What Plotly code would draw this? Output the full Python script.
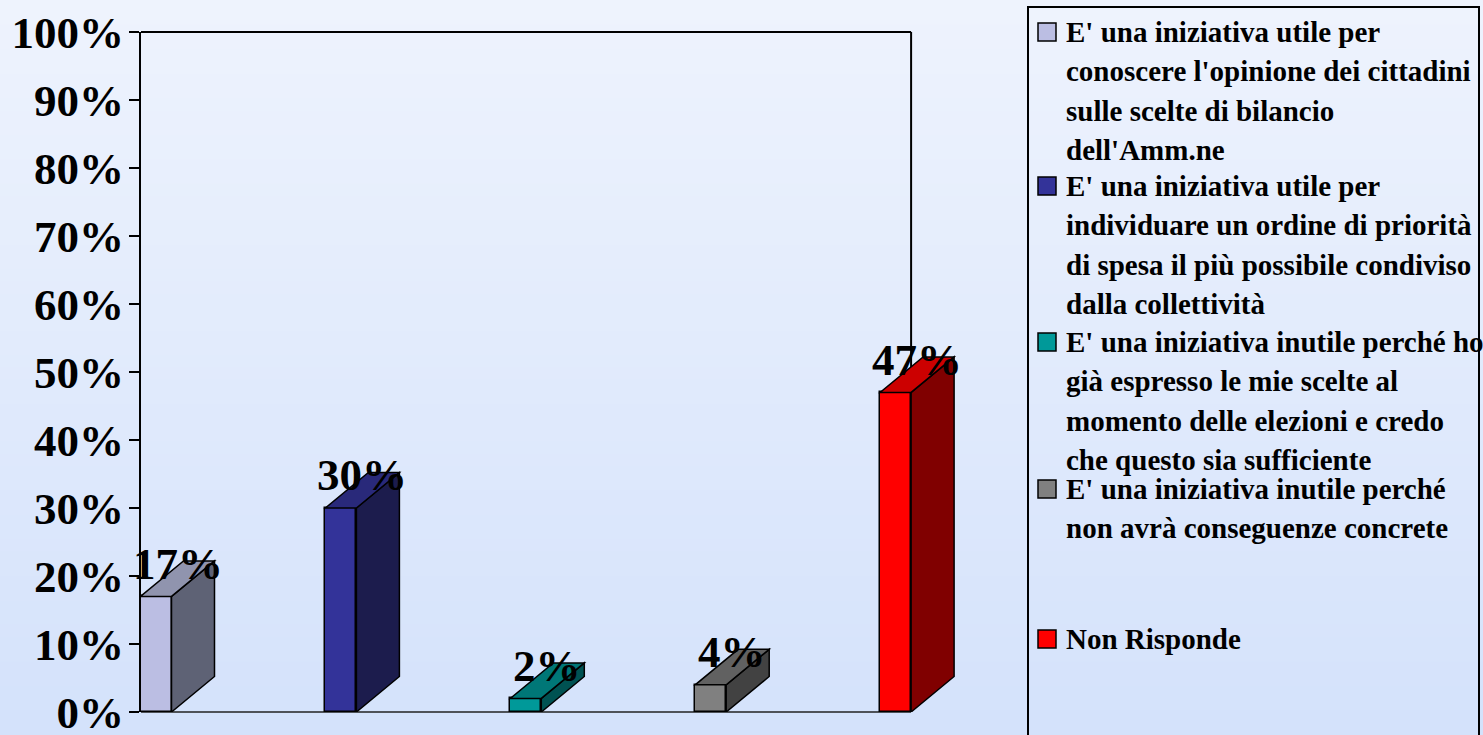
import plotly.graph_objects as go

# ---------------- data ----------------
categories = [
    "E' una iniziativa utile per conoscere l'opinione dei cittadini sulle scelte di bilancio dell'Amm.ne",
    "E' una iniziativa utile per individuare un ordine di priorità di spesa il più possibile condiviso dalla collettività",
    "E' una iniziativa inutile perché ho già espresso le mie scelte al momento delle elezioni e credo che questo sia sufficiente",
    "E' una iniziativa inutile perché non avrà conseguenze concrete",
    "Non Risponde",
]
legend_lines = [
    ["E' una iniziativa utile per", "conoscere l'opinione dei cittadini", "sulle scelte di bilancio", "dell'Amm.ne"],
    ["E' una iniziativa utile per", "individuare un ordine di priorità", "di spesa il più possibile condiviso", "dalla collettività"],
    ["E' una iniziativa inutile perché ho", "già espresso le mie scelte al", "momento delle elezioni e credo", "che questo sia sufficiente"],
    ["E' una iniziativa inutile perché", "non avrà conseguenze concrete"],
    ["Non Risponde"],
]
values = [17, 30, 2, 4, 47]
tick_values = [0, 10, 20, 30, 40, 50, 60, 70, 80, 90, 100]
tick_labels = ["0%", "10%", "20%", "30%", "40%", "50%", "60%", "70%", "80%", "90%", "100%"]

# ---------------- style ----------------
front_colors = ["#BBBEE3", "#333399", "#009999", "#808080", "#FF0000"]
top_colors = ["#9094AE", "#29297A", "#007777", "#616161", "#CC0000"]
side_colors = ["#5E6275", "#1C1C4D", "#005252", "#424242", "#800000"]

W, H = 1483, 735
FONT = "Liberation Serif, Times New Roman, serif"

# plot area in pixels
PX_L, PX_R, PX_T, PX_B = 141, 1000, 32, 712
UNIT_X = 184.9            # px per category
FIRST_CENTER = 156        # px of first category centre
BAR_W = 31 / UNIT_X
DEPTH_X = 43 / UNIT_X
DEPTH_Y = 35.5 / ((PX_B - PX_T) / 100.0)
x_lo = -(FIRST_CENTER - PX_L) / UNIT_X
x_hi = x_lo + (PX_R - PX_L) / UNIT_X
wall_x = (len(values) - 1) + BAR_W / 2


def px_x(p):
    return p / W


def px_y(p):
    return 1 - p / H


xs = list(range(len(values)))

fig = go.Figure()
fig.add_trace(go.Bar(
    x=xs, y=values, width=BAR_W,
    marker=dict(color=front_colors, line=dict(color="black", width=1.5)),
    showlegend=False, hoverinfo="skip",
))

shapes = []
# background gradient
top_rgb = (238, 243, 253)
bot_rgb = (212, 226, 251)
N = 60
for k in range(N):
    t = k / (N - 1)
    c = tuple(round(top_rgb[j] + (bot_rgb[j] - top_rgb[j]) * t) for j in range(3))
    shapes.append(dict(type="rect", xref="paper", yref="paper", layer="below",
                       x0=0, x1=1, y0=1 - k / N, y1=1 - (k + 1) / N - 0.002,
                       fillcolor="rgb(%d,%d,%d)" % c, line=dict(width=0)))

# back wall / floor frame
y_top_p = px_y(PX_T)
y_bot_p = px_y(PX_B)
shapes.append(dict(type="line", xref="x", yref="paper", layer="below",
                   x0=x_lo, x1=wall_x, y0=y_top_p, y1=y_top_p,
                   line=dict(color="black", width=2)))
shapes.append(dict(type="line", xref="x", yref="paper", layer="below",
                   x0=wall_x, x1=wall_x, y0=y_bot_p, y1=y_top_p,
                   line=dict(color="black", width=2)))
shapes.append(dict(type="line", xref="x", yref="paper", layer="below",
                   x0=x_lo, x1=wall_x, y0=y_bot_p, y1=y_bot_p,
                   line=dict(color="#222222", width=1.5)))

# 3D faces of the bars
for i, v in enumerate(values):
    x0 = i - BAR_W / 2
    x1 = i + BAR_W / 2
    top = (f"M {x0},{v} L {x1},{v} L {x1 + DEPTH_X},{v + DEPTH_Y} "
           f"L {x0 + DEPTH_X},{v + DEPTH_Y} Z")
    side = (f"M {x1},0 L {x1 + DEPTH_X},{DEPTH_Y} L {x1 + DEPTH_X},{v + DEPTH_Y} "
            f"L {x1},{v} Z")
    shapes.append(dict(type="path", path=side, xref="x", yref="y", layer="above",
                       fillcolor=side_colors[i], line=dict(color="black", width=1.5)))
    shapes.append(dict(type="path", path=top, xref="x", yref="y", layer="above",
                       fillcolor=top_colors[i], line=dict(color="black", width=1.5)))

# legend box
shapes.append(dict(type="rect", xref="paper", yref="paper", layer="above",
                   x0=px_x(1028), x1=px_x(1479), y0=px_y(745), y1=px_y(7),
                   line=dict(color="black", width=2), fillcolor="rgba(0,0,0,0)"))

annotations = []
# data labels
for i, v in enumerate(values):
    annotations.append(dict(
        x=i + DEPTH_X / 2, y=v + DEPTH_Y / 2, xref="x", yref="y",
        text=f"{v}%", showarrow=False, xanchor="center", yanchor="middle", yshift=15,
        font=dict(family=FONT, size=45, color="black", weight="bold"),
    ))

# legend
item_centers = [32, 186, 342, 489, 639]
LINE_H = 39.3
for k, lines in enumerate(legend_lines):
    cy = item_centers[k]
    shapes.append(dict(type="rect", xref="paper", yref="paper", layer="above",
                       x0=px_x(1038), x1=px_x(1056), y0=px_y(cy + 9), y1=px_y(cy - 9),
                       fillcolor=front_colors[k], line=dict(color="black", width=1.5)))
    for j, line in enumerate(lines):
        annotations.append(dict(
            x=px_x(1064), y=px_y(cy + j * LINE_H), xref="paper", yref="paper",
            text=line, showarrow=False, xanchor="left", yanchor="middle",
            font=dict(family=FONT, size=29, color="black", weight="bold"),
        ))

fig.update_layout(
    width=W, height=H, autosize=False,
    margin=dict(l=0, r=0, t=0, b=0, pad=0, autoexpand=False),
    paper_bgcolor="rgb(238,243,253)",
    plot_bgcolor="rgba(0,0,0,0)",
    showlegend=False,
    shapes=shapes,
    annotations=annotations,
    bargap=0,
    xaxis=dict(domain=[px_x(PX_L), px_x(PX_R)], range=[x_lo, x_hi],
               showgrid=False, zeroline=False, showline=False, automargin=False,
               showticklabels=False, ticks="", fixedrange=True),
    yaxis=dict(domain=[px_y(PX_B), px_y(PX_T)], range=[0, 100],
               showgrid=False, zeroline=False, showline=True, automargin=False,
               linecolor="black", linewidth=2,
               ticks="outside", ticklen=10, tickwidth=2, tickcolor="black",
               tickvals=tick_values, ticktext=tick_labels,
               ticklabelstandoff=-4, ticklabeloverflow="allow",
               tickfont=dict(family=FONT, size=45, color="black", weight="bold"),
               fixedrange=True),
)

fig.write_html("out.html", config={"displayModeBar": False},
               post_script="document.body.style.margin='0';document.body.style.overflow='hidden';")
